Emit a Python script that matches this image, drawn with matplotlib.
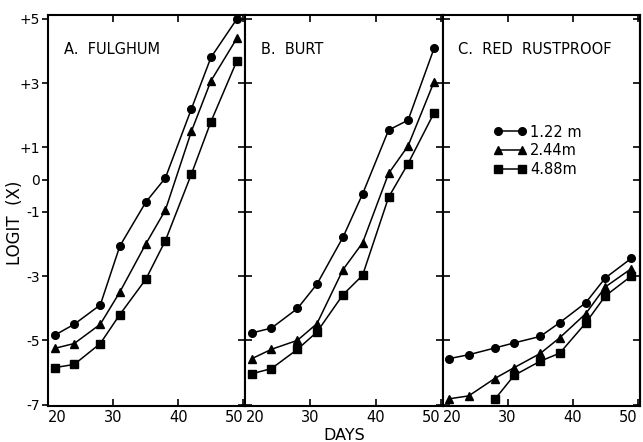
import matplotlib.pyplot as plt
import numpy as np

# days after planting (same for every panel)
days = [21, 24, 28, 31, 35, 38, 42, 45, 49]

# logit(x), one list per panel and distance
fulghum_122 = [-4.84, -4.5, -3.9, -2.07, -0.7, 0.05, 2.2, 3.8, 5.0]
fulghum_244 = [-5.25, -5.1, -4.5, -3.5, -2.0, -0.95, 1.5, 3.07, 4.4]
fulghum_488 = [-5.85, -5.75, -5.1, -4.2, -3.1, -1.9, 0.17, 1.8, 3.7]

burt_122 = [-4.77, -4.62, -4.01, -3.25, -1.79, -0.45, 1.54, 1.85, 4.09]
burt_244 = [-5.57, -5.28, -5.0, -4.48, -2.8, -1.97, 0.19, 1.05, 3.05]
burt_488 = [-6.04, -5.88, -5.28, -4.74, -3.58, -2.98, -0.55, 0.5, 2.08]

red_122 = [-5.57, -5.45, -5.24, -5.08, -4.88, -4.45, -3.83, -3.06, -2.45]
red_244 = [-6.82, -6.73, -6.19, -5.85, -5.41, -4.92, -4.17, -3.34, -2.77]
red_488 = [np.nan, np.nan, -6.84, -6.09, -5.65, -5.4, -4.46, -3.62, -3.0]

panel_titles = ["A.  FULGHUM", "B.  BURT", "C.  RED  RUSTPROOF"]
series_labels = ["1.22 m", "2.44m", "4.88m"]
markers = ["o", "^", "s"]

yticks = [5, 3, 1, 0, -1, -3, -5, -7]
ytick_labels = ["+5", "+3", "+1", "0", "-1", "-3", "-5", "-7"]
xticks = [20, 30, 40, 50]
xtick_labels = ["20", "30", "40", "50"]

panels = [
    [fulghum_122, fulghum_244, fulghum_488],
    [burt_122, burt_244, burt_488],
    [red_122, red_244, red_488],
]

plt.rcParams['font.family'] = ['DejaVu Sans']

fig = plt.figure(figsize=(6.43, 4.42), dpi=100)
gs = fig.add_gridspec(1, 3, left=0.075, right=0.995, bottom=0.081, top=0.966, wspace=0)

for i, (series, title) in enumerate(zip(panels, panel_titles)):
    ax = fig.add_subplot(gs[0, i])
    for ys, m, lab in zip(series, markers, series_labels):
        ax.plot(days, ys, color='black', lw=1.1, marker=m, ms=5.5, label=lab)

    ax.set_xlim(20, 50.3)
    ax.set_ylim(-7.05, 5.12)
    ax.set_xticks(xticks)
    ax.set_xticklabels(xtick_labels, fontsize=10.5)
    labels = ax.get_xticklabels()
    labels[0].set_ha('left')
    labels[-1].set_ha('right')
    ax.set_yticks(yticks)
    ax.tick_params(axis='x', direction='in', length=5, width=1.2, top=True, pad=3)

    # y ticks: outward on the far left, crossing on the shared spines
    if i == 0:
        ax.set_yticklabels(ytick_labels, fontsize=10)
        ax.set_ylabel("LOGIT  (X)", fontsize=12)
        ax.yaxis.set_label_coords(-0.125, 0.47)
        ax.tick_params(axis='y', direction='out', length=4, width=1.2, left=True, right=False, pad=2)
    else:
        ax.set_yticklabels([])
        ax.tick_params(axis='y', direction='inout', length=10, width=1.2, left=True, right=False)
    if i == 2:
        sec = ax.secondary_yaxis('right')
        sec.set_yticks(yticks)
        sec.set_yticklabels([])
        sec.tick_params(direction='in', length=5, width=1.2)
        sec.spines['right'].set_linewidth(1.5)

    for sp in ax.spines.values():
        sp.set_linewidth(1.5)

    ax.text(0.08, 0.93, title, transform=ax.transAxes, fontsize=10.5, va='top', ha='left')

    if i == 1:
        ax.set_xlabel("DAYS", fontsize=11.5, labelpad=2)
    if i == 2:
        ax.legend(loc='upper left', bbox_to_anchor=(0.26, 0.72), frameon=False, fontsize=10.5,
                  numpoints=2, handlelength=2.2, handletextpad=0.3, labelspacing=0.25,
                  borderpad=0, borderaxespad=0)

fig.savefig("out.png", dpi=100)
